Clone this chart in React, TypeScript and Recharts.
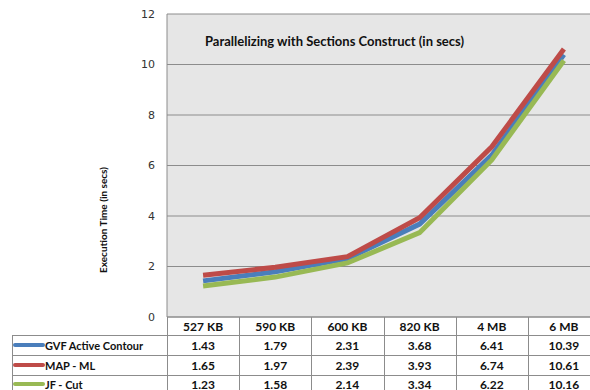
import { LineChart, Line, XAxis, YAxis, CartesianGrid } from "recharts"

const categories = ["527 KB", "590 KB", "600 KB", "820 KB", "4 MB", "6 MB"]
const gvfActiveContour = [1.43, 1.79, 2.31, 3.68, 6.41, 10.39]
const mapMl = [1.65, 1.97, 2.39, 3.93, 6.74, 10.61]
const jfCut = [1.23, 1.58, 2.14, 3.34, 6.22, 10.16]
const yTicks = [0, 2, 4, 6, 8, 10, 12]

const seriesList = [
  { key: "gvf", name: "GVF Active Contour", values: gvfActiveContour, color: "#4a7ebb" },
  { key: "map", name: "MAP - ML", values: mapMl, color: "#be4b48" },
  { key: "jf", name: "JF - Cut", values: jfCut, color: "#98b954" },
]

const data = categories.map((category, i) => ({
  category,
  gvf: gvfActiveContour[i],
  map: mapMl[i],
  jf: jfCut[i],
}))

// layout (chart is a bit wider than the window, like the cropped original)
const W = 600
const H = 390
const PLOT_LEFT = 167
const PLOT_TOP = 14
const PLOT_BOTTOM = 317
const ROW_LINES = [335, 355, 375]
const HEADER_Y = 326
const ROW_CENTERS = [345, 365, 384]
const TABLE_LEFT = 12
const LINE_COLOR = "#8c8c8c"
const FONT = "Lato, 'Open Sans', sans-serif"

const colWidth = (W - PLOT_LEFT) / categories.length

function TableTick(props: any) {
  const { x, payload } = props
  const i = payload.index
  return (
    <g>
      <text x={x} y={HEADER_Y} textAnchor="middle" dominantBaseline="central"
        fontFamily={FONT} fontWeight={700} fontSize={12} fill="#111">
        {payload.value}
      </text>
      {seriesList.map((s, r) => (
        <text key={s.key} x={x} y={ROW_CENTERS[r]} textAnchor="middle" dominantBaseline="central"
          fontFamily={FONT} fontWeight={700} fontSize={12} fill="#111">
          {s.values[i].toFixed(2)}
        </text>
      ))}
    </g>
  )
}

export default function App() {
  return (
    <div style={{ position: "absolute", left: 0, top: 0, width: 590, height: 390, overflow: "hidden", background: "#fff" }}>
      <LineChart width={W} height={H} data={data} margin={{ top: PLOT_TOP, right: 0, bottom: 0, left: 0 }}>
        <CartesianGrid vertical={false} stroke={LINE_COLOR} fill="#e6e6e6" fillOpacity={1} />
        <XAxis
          dataKey="category"
          interval={0}
          height={H - PLOT_BOTTOM}
          padding={{ left: colWidth / 2, right: colWidth / 2 }}
          axisLine={{ stroke: LINE_COLOR }}
          tickLine={false}
          tick={<TableTick />}
        />
        <YAxis
          width={PLOT_LEFT}
          domain={[0, 12]}
          ticks={yTicks}
          axisLine={{ stroke: LINE_COLOR }}
          tickLine={false}
          tickSize={0}
          tickMargin={12}
          tick={{ fontFamily: "'DejaVu Sans', sans-serif", fontSize: 11, fill: "#333" }}
        />
        {seriesList.map((s) => (
          <Line key={s.key} dataKey={s.key} name={s.name} type="linear" stroke={s.color}
            strokeWidth={5} dot={false} activeDot={false} isAnimationActive={false} />
        ))}
      </LineChart>
      <svg width={W} height={H} style={{ position: "absolute", left: 0, top: 0, pointerEvents: "none" }}>
        <text x={205} y={41} dominantBaseline="central" fontFamily={FONT} fontWeight={700} fontSize={13} fill="#111">
          Parallelizing with Sections Construct (in secs)
        </text>
        <text x={103} y={220} transform="rotate(-90 103 220)" textAnchor="middle" dominantBaseline="central"
          fontFamily={FONT} fontWeight={700} fontSize={10} fill="#111">
          Execution Time (in secs)
        </text>
        {ROW_LINES.map((y) => (
          <line key={y} x1={TABLE_LEFT} x2={W} y1={y + 0.5} y2={y + 0.5} stroke={LINE_COLOR} />
        ))}
        <line x1={TABLE_LEFT + 0.5} x2={TABLE_LEFT + 0.5} y1={ROW_LINES[0]} y2={H} stroke={LINE_COLOR} />
        <line x1={PLOT_LEFT + 0.5} x2={PLOT_LEFT + 0.5} y1={PLOT_BOTTOM} y2={H} stroke={LINE_COLOR} />
        {categories.slice(1).map((c, i) => {
          const x = Math.round(PLOT_LEFT + colWidth * (i + 1)) + 0.5
          return <line key={c} x1={x} x2={x} y1={PLOT_BOTTOM} y2={H} stroke={LINE_COLOR} />
        })}
        {seriesList.map((s, r) => (
          <g key={s.key}>
            <line x1={15} x2={43} y1={ROW_CENTERS[r]} y2={ROW_CENTERS[r]} stroke={s.color} strokeWidth={4} strokeLinecap="round" />
            <text x={45} y={ROW_CENTERS[r]} dominantBaseline="central" fontFamily={FONT} fontWeight={700} fontSize={11} fill="#111">
              {s.name}
            </text>
          </g>
        ))}
      </svg>
    </div>
  )
}
